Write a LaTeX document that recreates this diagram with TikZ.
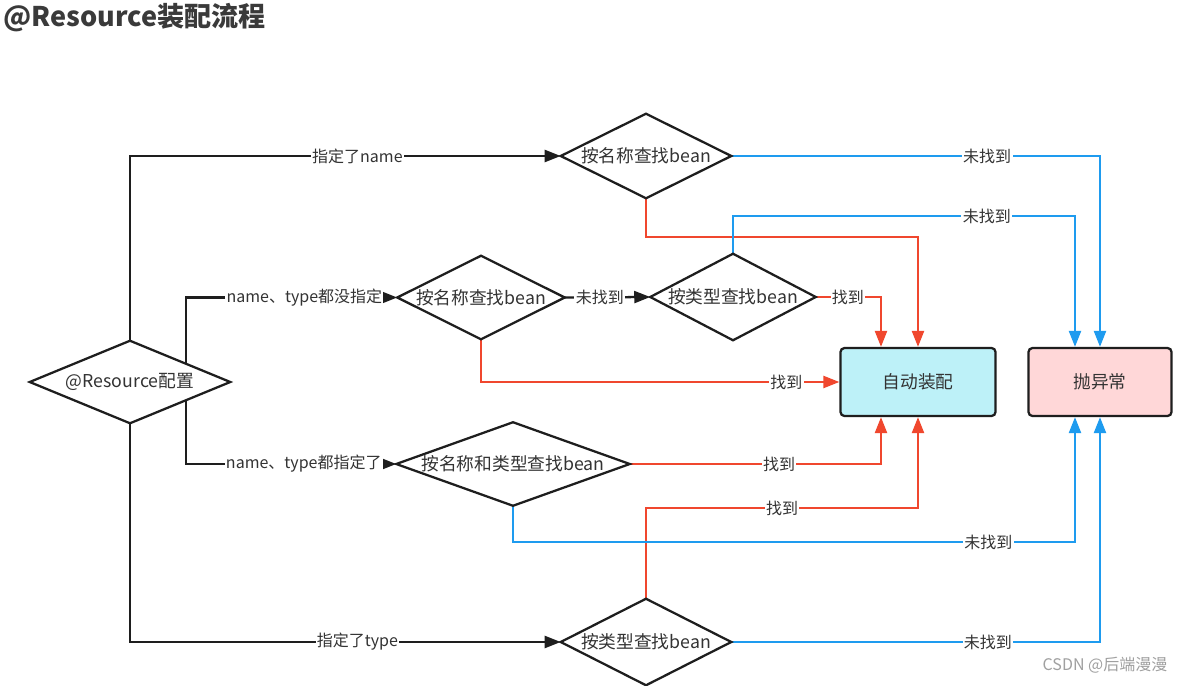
\documentclass[tikz,border=0pt]{standalone}
\usepackage{fontspec}
\setmainfont{Noto Sans CJK SC}
\usetikzlibrary{arrows.meta,calc}
\definecolor{txt}{HTML}{333333}
\definecolor{ttl}{HTML}{3A3A3A}
\definecolor{blk}{HTML}{1E1E1E}
\definecolor{redl}{HTML}{F0472E}
\definecolor{bluel}{HTML}{1E9BEF}
\definecolor{cyanf}{HTML}{BDF1F8}
\definecolor{pinkf}{HTML}{FFD7D8}
\definecolor{wm}{HTML}{A0A0A0}
\begin{document}
\begin{tikzpicture}[x=0.75pt,y=-0.75pt,
  diabox/.style 2 args={minimum width=#1*0.75pt, minimum height=#2*0.75pt, inner sep=0pt, text=txt, font=\fontsize{13.3}{15}\selectfont},
  dline/.style={line width=1.7pt, draw=blk, line join=miter},
  endbox/.style={draw=blk, line width=1.7pt, rounded corners=3pt, minimum width=#1*0.75pt, minimum height=68*0.75pt, text=txt, font=\fontsize{13.3}{15}\selectfont},
  tip/.style={-{Triangle[length=12pt,width=9pt]}},
  blkc/.style={line width=1.7pt, draw=blk, tip},
  redc/.style={line width=1.7pt, draw=redl, tip},
  bluc/.style={line width=1.7pt, draw=bluel, tip},
  lbl/.style={fill=white, inner sep=1pt, text=txt, font=\fontsize{12}{14}\selectfont}]
\useasboundingbox (0,0) rectangle (1184,685);
\fill[white] (0,0) rectangle (1184,685);

% title
\node[anchor=west, text=ttl, font=\fontsize{20.3}{24}\selectfont\bfseries] (title) at (-1,18) {@Resource装配流程};

% decision nodes
\node[diabox={200}{82}] (d0) at (130,382) {@Resource配置};
\node[diabox={170}{84}] (d1) at (646,156) {按名称查找bean};
\node[diabox={167}{83}] (d2) at (481,297.5) {按名称查找bean};
\node[diabox={165}{86}] (d3) at (733,297) {按类型查找bean};
\node[diabox={233}{83}] (d4) at (513,464) {按名称和类型查找bean};
\node[diabox={170}{86}] (d5) at (646,642) {按类型查找bean};

% end boxes
\node[endbox=155, fill=cyanf] (a) at (918,382) {自动装配};
\node[endbox=143, fill=pinkf] (b) at (1100,382) {抛异常};

% helper coordinates
\coordinate (s1) at ($(d0.north)!0.56!(d0.east)$);
\coordinate (s2) at ($(d0.south)!0.56!(d0.east)$);
\coordinate (a2n) at ($(a.north)+(-37,0)$);
\coordinate (a2s) at ($(a.south)+(-37,0)$);
\coordinate (b2n) at ($(b.north)+(-25,0)$);
\coordinate (b2s) at ($(b.south)+(-25,0)$);
\coordinate (c7) at (1075,216);
\coordinate (c8) at (918,237);
\coordinate (c12) at (918,508);
\coordinate (c13) at (1075,542);

% black connectors
\draw[blkc] (d0.north) |- node[lbl, pos=0.764] (l1) {指定了name} (d1.west);
\draw[blkc] (s1) |- node[lbl, pos=0.78] (l2) {name、type都没指定} (d2.west);
\draw[blkc] (s2) |- node[lbl, pos=0.78] (l3) {name、type都指定了} (d4.west);
\draw[blkc] (d0.south) |- node[lbl, pos=0.764] (l4) {指定了type} (d5.west);
\draw[blkc] (d2.east) -- node[lbl, pos=0.41] (l5) {未找到} (d3.west);

% red connectors
\draw[redc] (d1.south) |- (c8) -- (a.north);
\draw[redc] (d3.east) -| node[lbl, pos=0.246] (l9) {找到} (a2n);
\draw[redc] (d2.south) |- node[lbl, pos=0.926] (l10) {找到} (a.west);
\draw[redc] (d4.east) -| node[lbl, pos=0.297] (l11) {找到} (a2s);
\draw[redc] (d5.north) |- node[lbl, pos=0.75] (l12) {找到} (c12) -- (a.south);

% blue connectors
\draw[bluc] (d1.east) -| node[lbl, pos=0.347] (l6) {未找到} (b.north);
\draw[bluc] (d3.north) |- node[lbl, pos=0.871] (l7) {未找到} (c7) -- (b2n);
\draw[bluc] (d4.south) |- node[lbl, pos=0.923] (l13) {未找到} (c13) -- (b2s);
\draw[bluc] (d5.east) -| node[lbl, pos=0.348] (l14) {未找到} (b.south);

% diamonds
\foreach \n in {d0,d1,d2,d3,d4,d5}
  \draw[dline] (\n.north) -- (\n.east) -- (\n.south) -- (\n.west) -- cycle;

% watermark
\node[anchor=east, text=wm, font=\fontsize{12}{14}\selectfont] (wmk) at (1172,665) {CSDN @后端漫漫};
\end{tikzpicture}
\end{document}
